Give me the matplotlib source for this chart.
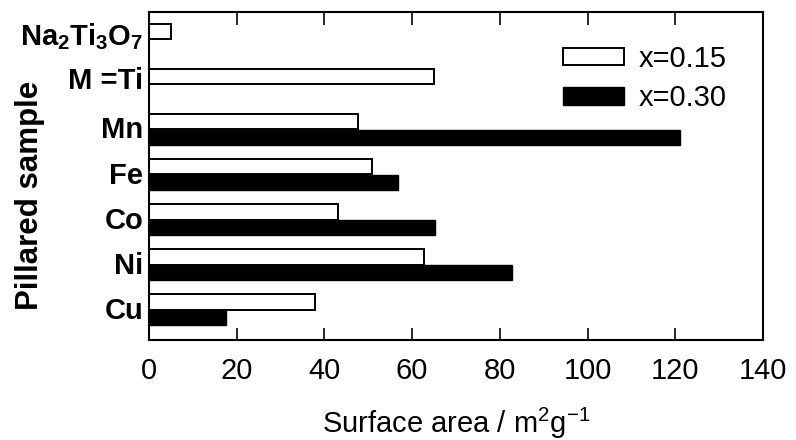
import numpy as np
import matplotlib
matplotlib.use("Agg")
import matplotlib.pyplot as plt

plt.rcParams['font.family'] = ['Liberation Sans', 'DejaVu Sans']
plt.rcParams['mathtext.fontset'] = 'custom'
plt.rcParams['mathtext.rm'] = 'Liberation Sans'
plt.rcParams['mathtext.bf'] = 'Liberation Sans:bold'

# Surface area of pillared samples (m2/g)
samples = [r'Na$_\mathbf{2}$Ti$_\mathbf{3}$O$_\mathbf{7}$', 'M =Ti', 'Mn', 'Fe', 'Co', 'Ni', 'Cu']
area_015 = [5.0, 65.0, 47.6, 50.9, 43.0, 62.6, 37.8]
area_030 = [np.nan, np.nan, 121.1, 56.8, 65.2, 82.8, 17.5]
xticks = [0, 20, 40, 60, 80, 100, 120, 140]

fig = plt.figure(figsize=(7.96, 4.40), dpi=100)
ax = fig.add_axes([149/796, 1 - 340/440, 614/796, 328/440])

pos = np.arange(len(samples))
a030 = np.array(area_030)
has_030 = ~np.isnan(a030)
h = 0.34

ax.barh(pos, area_015, height=h, color='white', edgecolor='black',
        linewidth=1.4, label='x=0.15')
ax.barh(pos[has_030] + 0.345, a030[has_030], height=h, color='black',
        edgecolor='black', linewidth=1.0, label='x=0.30')

ax.set_xlim(0, 140)
ax.set_ylim(6.84, -0.43)
ax.set_xticks(xticks)
ax.set_xticklabels([str(t) for t in xticks])

label_pos = np.where(has_030, pos + 0.13, pos + 0.03)
ax.set_yticks(label_pos)
ax.set_yticklabels(samples, fontweight='bold', fontsize=21)

ax.tick_params(axis='x', direction='in', top=True, length=9, width=1.2,
               labelsize=21, pad=12)
ax.tick_params(axis='y', length=0, pad=4)
for s in ax.spines.values():
    s.set_linewidth(1.5)

ax.set_xlabel('Surface area / m$^2$g$^{-1}$', fontsize=21, labelpad=15)
fig.text(30/796, 1 - 195/440, 'Pillared sample', fontsize=22.5,
         fontweight='bold', rotation=90, ha='center', va='center')

ax.legend(loc='upper left', bbox_to_anchor=(0.655, 0.935), frameon=False,
          fontsize=21, handlelength=2.1, handleheight=0.55,
          labelspacing=0.38, handletextpad=0.5, borderaxespad=0)

fig.savefig('out.png', dpi=100)
